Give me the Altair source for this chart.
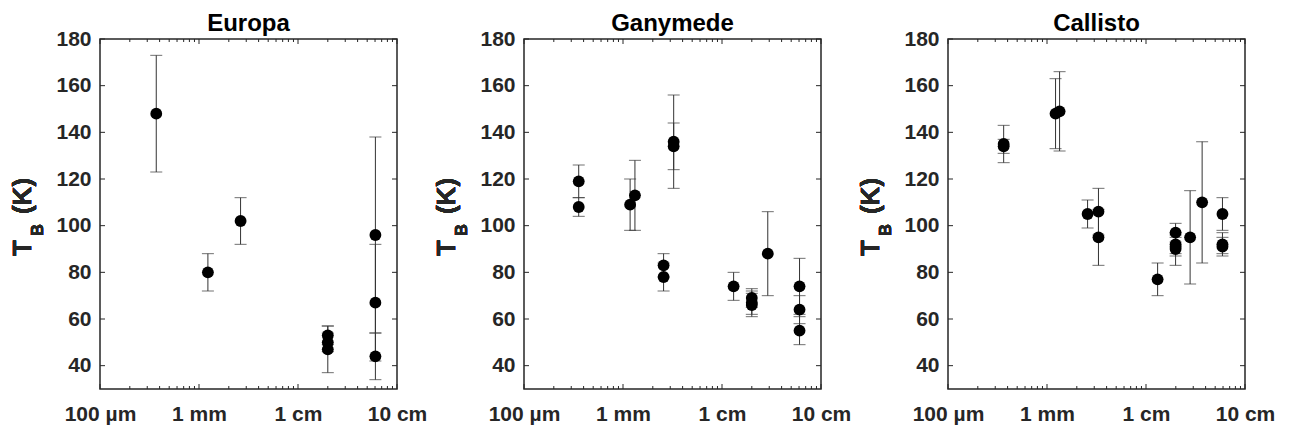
import altair as alt
import pandas as pd

# ---------------- data (wavelength in mm, brightness temperature in K) ----------------
eu_wl = [0.37, 1.23, 2.63, 20, 20, 20, 60.5, 60.5, 60.5]
eu_tb = [148, 80, 102, 53, 50, 47, 96, 67, 44]
eu_lo = [123, 72, 92, 49, 46, 37, 54, 42, 34]
eu_hi = [173, 88, 112, 57, 54, 57, 138, 92, 54]

ga_wl = [0.357, 0.357, 1.18, 1.32, 2.57, 2.57, 3.25, 3.25, 13.1, 20, 20, 20, 29, 60.7, 60.7, 60.7]
ga_tb = [119, 108, 109, 113, 83, 78, 136, 134, 74, 69, 67, 66, 88, 74, 64, 55]
ga_lo = [112, 104, 98, 98, 78, 72, 116, 124, 68, 65, 62, 61, 70, 62, 58, 49]
ga_hi = [126, 112, 120, 128, 88, 84, 156, 144, 80, 73, 72, 71, 106, 86, 70, 61]

ca_wl = [0.365, 0.365, 1.22, 1.34, 2.57, 3.31, 3.31, 13.1, 19.9, 19.9, 19.9, 19.9, 27.9, 36.9, 59.2, 59.2, 59.2]
ca_tb = [135, 134, 148, 149, 105, 106, 95, 77, 97, 92, 91, 90, 95, 110, 105, 92, 91]
ca_lo = [127, 131, 133, 132, 99, 96, 83, 70, 93, 88, 87, 83, 75, 84, 98, 87, 88]
ca_hi = [143, 137, 163, 166, 111, 116, 107, 84, 101, 96, 95, 97, 115, 136, 112, 97, 95]

panel_titles = ["Europa", "Ganymede", "Callisto"]

x_major = [0.1, 1, 10, 100]
x_major_labels = ["100 µm", "1 mm", "1 cm", "10 cm"]
x_minor = [0.2, 0.3, 0.4, 0.5, 0.6, 0.7, 0.8, 0.9,
           2, 3, 4, 5, 6, 7, 8, 9,
           20, 30, 40, 50, 60, 70, 80, 90]
y_ticks = [40, 60, 80, 100, 120, 140, 160, 180]

# ---------------- style ----------------
W, H = 297, 350
FONT = "Liberation Sans"
AXC = "#262626"

label_expr = " : ".join(
    f"datum.value < {v * 3} ? '{lab}'" for v, lab in zip(x_major[:-1], x_major_labels[:-1])
) + f" : '{x_major_labels[-1]}'"

xscale = alt.Scale(type="log", domain=[0.1, 100], nice=False)
yscale = alt.Scale(domain=[30, 180], nice=False, zero=False)

xaxis = alt.Axis(
    values=x_major, labelExpr=label_expr, title=None, grid=False,
    ticks=False, tickSize=0, domain=False, labelFont=FONT, labelFontSize=21,
    labelFontWeight="bold", labelColor=AXC, labelPadding=14,
    labelFlush=False, labelOverlap=False)
yaxis = alt.Axis(
    values=y_ticks, title=None, grid=False, ticks=False, tickSize=0,
    domain=False, labelFont=FONT, labelFontSize=21, labelFontWeight="bold",
    labelColor=AXC, labelPadding=9, labelFlush=False, labelOverlap=False)


def X(f):
    return alt.X(f, scale=xscale, axis=xaxis, title=None)


def Y(f):
    return alt.Y(f, scale=yscale, axis=yaxis, title=None)


def panel(title, wl, tb, lo, hi):
    df = pd.DataFrame({"wl": wl, "tb": tb, "lo": lo, "hi": hi})
    base = alt.Chart(df)

    bars = base.mark_rule(color="#333333", strokeWidth=1).encode(
        x=X("wl:Q"), y=Y("lo:Q"), y2="hi:Q")
    cap_lo = base.mark_tick(orient="horizontal", size=12, thickness=1, color="#333333").encode(
        x=X("wl:Q"), y=Y("lo:Q"))
    cap_hi = base.mark_tick(orient="horizontal", size=12, thickness=1, color="#333333").encode(
        x=X("wl:Q"), y=Y("hi:Q"))
    pts = base.mark_circle(size=140, color="black", opacity=1).encode(
        x=X("wl:Q"), y=Y("tb:Q"))

    ydf = pd.DataFrame({"v": y_ticks})
    yl = alt.Chart(ydf).mark_rule(color=AXC, strokeWidth=1).encode(
        y=Y("v:Q"), x=alt.value(0), x2=alt.value(5))
    yr = alt.Chart(ydf).mark_rule(color=AXC, strokeWidth=1).encode(
        y=Y("v:Q"), x=alt.value(W - 5), x2=alt.value(W))
    xmdf = pd.DataFrame({"v": x_major})
    xndf = pd.DataFrame({"v": x_minor})
    xb = alt.Chart(xmdf).mark_rule(color=AXC, strokeWidth=1).encode(
        x=X("v:Q"), y=alt.value(H - 5), y2=alt.value(H))
    xt = alt.Chart(xmdf).mark_rule(color=AXC, strokeWidth=1).encode(
        x=X("v:Q"), y=alt.value(0), y2=alt.value(5))
    xbn = alt.Chart(xndf).mark_rule(color=AXC, strokeWidth=1).encode(
        x=X("v:Q"), y=alt.value(H - 3), y2=alt.value(H))
    xtn = alt.Chart(xndf).mark_rule(color=AXC, strokeWidth=1).encode(
        x=X("v:Q"), y=alt.value(0), y2=alt.value(3))

    t_txt = alt.Chart(ydf).mark_text(
        text="T", angle=270, align="center", baseline="alphabetic", font=FONT,
        fontSize=26, fontWeight="bold", color=AXC).encode(x=alt.value(-69), y=alt.value(209))
    b_txt = alt.Chart(ydf).mark_text(
        text="B", angle=270, align="center", baseline="alphabetic", font=FONT,
        fontSize=17, fontWeight="bold", color=AXC).encode(x=alt.value(-57), y=alt.value(191))
    k_txt = alt.Chart(ydf).mark_text(
        text="(K)", angle=270, align="center", baseline="alphabetic", font=FONT,
        fontSize=26, fontWeight="bold", color=AXC).encode(x=alt.value(-69), y=alt.value(157))

    return alt.layer(bars, cap_lo, cap_hi, pts, yl, yr, xb, xt, xbn, xtn,
                     t_txt, b_txt, k_txt).properties(
        width=W, height=H,
        title=alt.Title(title, font=FONT, fontSize=24, fontWeight="bold", color="black",
                        anchor="middle", frame="group", offset=-8),
    )


chart = alt.hconcat(
    panel(panel_titles[0], eu_wl, eu_tb, eu_lo, eu_hi),
    panel(panel_titles[1], ga_wl, ga_tb, ga_lo, ga_hi),
    panel(panel_titles[2], ca_wl, ca_tb, ca_lo, ca_hi),
    spacing=127,
    bounds="flush",
).configure_view(
    stroke=AXC, strokeWidth=1.5
).properties(padding={"left": 1, "top": 3, "right": 5, "bottom": 5}, background="white")

chart.save("out.html", embed_options={"renderer": "svg", "actions": False})
